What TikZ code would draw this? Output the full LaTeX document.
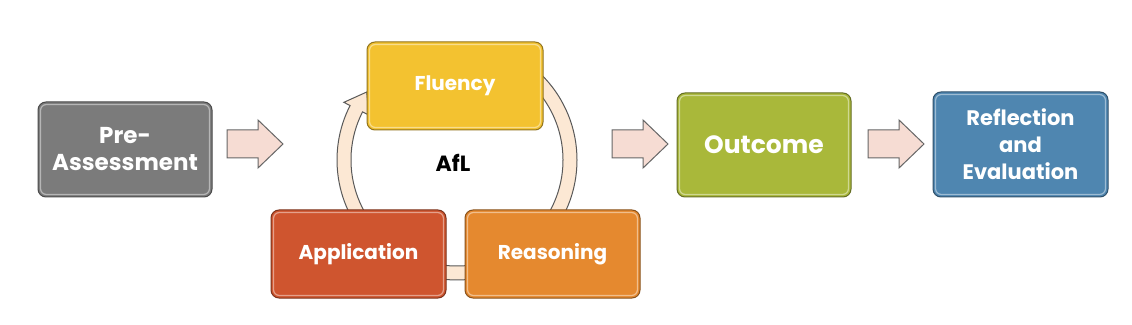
\documentclass[tikz,border=0pt]{standalone}
\usepackage{fontspec}
\setmainfont{Poppins}
\usetikzlibrary{calc}
\begin{document}
\begin{tikzpicture}[x=1pt,y=1pt,
  box/.style={draw=#1!60!black, line width=1pt, rounded corners=8pt, text=white, font=\bfseries, align=center, inner sep=0pt},
  blk/.style={draw=black!60, fill=arrowpink, line width=1pt, line join=miter},
  bevel/.style={draw=white, opacity=0.45, line width=1.2pt, rounded corners=6pt},
]
\definecolor{boxgray}{HTML}{7B7B7B}
\definecolor{flu}{HTML}{F3C230}
\definecolor{appl}{HTML}{CF552F}
\definecolor{reas}{HTML}{E5892F}
\definecolor{outc}{HTML}{A9B83A}
\definecolor{refl}{HTML}{4F86B0}
\definecolor{ringfill}{HTML}{FCE8D4}
\definecolor{arrowpink}{HTML}{F6DCD3}
\useasboundingbox[fill=white] (0,0) rectangle (1132,324);

% ring arrow
\coordinate (rc) at (457,164);
\draw[draw=black!65, fill=ringfill, line width=1pt, line join=miter]
  ($(rc)+(45:120)$) arc[start angle=45, end angle=-207, radius=120]
  -- ($(rc)+(-207:127)$) -- ($(rc)+(-217:113)$) -- ($(rc)+(-207:99)$)
  -- ($(rc)+(-207:106)$) arc[start angle=-207, end angle=45, radius=106] -- cycle;

% boxes
\node[box=boxgray, fill=boxgray, minimum width=174pt, minimum height=95pt, font=\bfseries\fontsize{23}{27}\selectfont] (pre) at (125,174.5) {Pre-\\Assessment};
\node[box=flu, fill=flu, minimum width=176pt, minimum height=88pt, font=\bfseries\fontsize{20}{22}\selectfont] (flu) at (455,238) {Fluency};
\node[box=appl, fill=appl, minimum width=175pt, minimum height=88pt, font=\bfseries\fontsize{20}{22}\selectfont] (app) at (358.5,70) {Application};
\node[box=reas, fill=reas, minimum width=175pt, minimum height=88pt, font=\bfseries\fontsize{20}{22}\selectfont] (rea) at (552.5,70) {Reasoning};
\node[font=\bfseries\fontsize{22}{24}\selectfont] (afl) at (453,161) {AfL};
\node[box=outc, fill=outc, minimum width=174pt, minimum height=104pt, font=\bfseries\fontsize{25}{27}\selectfont] (out) at (764,179) {Outcome};
\node[box=refl, fill=refl, minimum width=175pt, minimum height=105pt, font=\bfseries\fontsize{21}{27}\selectfont] (ref) at (1020.5,179.5) {Reflection\\and\\Evaluation};

\foreach \b in {pre,flu,app,rea,out,ref}{
  \draw[bevel] ($(\b.south west)+(3,3)$) rectangle ($(\b.north east)+(-3,-3)$);
}

% block arrows
\foreach \n/\x in {a1/227, a2/612, a3/868}{
  \coordinate (\n) at (\x,180);
  \draw[blk] (\n) ++(0,-14) -- ++(31,0) -- ++(0,-10) -- ++(25,24) -- ++(-25,24) -- ++(0,-10) -- ++(-31,0) -- cycle;
}
\end{tikzpicture}
\end{document}
